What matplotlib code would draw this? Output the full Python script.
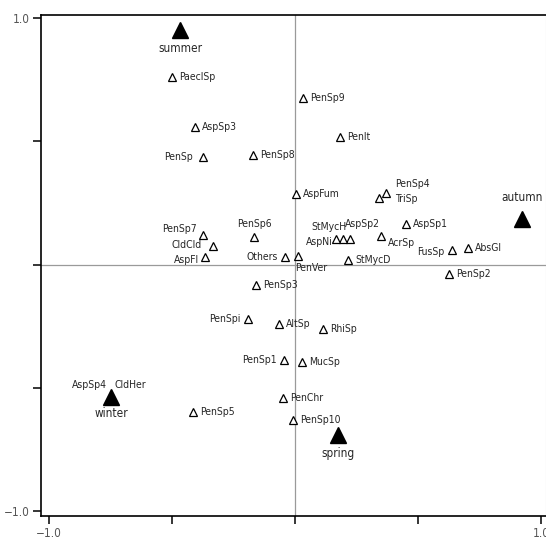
import matplotlib
matplotlib.use("Agg")
import matplotlib.pyplot as plt
from matplotlib.ticker import FixedLocator, FixedFormatter

plt.rcParams['font.family'] = ['DejaVu Sans']
plt.rcParams['font.stretch'] = 'condensed'

# species scores (axis 1, axis 2)
species = ["PaeclSp", "AspSp3", "PenSp", "PenSp8", "PenSp9", "PenIt", "AspFum",
           "PenSp4", "TriSp", "AspSp1", "AcrSp", "AspSp2", "StMycH", "AspNi",
           "StMycD", "FusSp", "AbsGl", "PenSp2", "PenSp7", "CldCld", "AspFl",
           "PenSp6", "Others", "PenVer", "PenSp3", "PenSpi", "AltSp", "RhiSp",
           "PenSp1", "MucSp", "PenChr", "PenSp10", "PenSp5", "AspSp4", "CldHer"]
sp_x = [-0.499, -0.406, -0.373, -0.170, 0.032, 0.183, 0.004,
        0.369, 0.341, 0.450, 0.349, 0.223, 0.195, 0.166,
        0.215, 0.637, 0.702, 0.625, -0.373, -0.333, -0.365,
        -0.166, -0.041, 0.012, -0.158, -0.191, -0.065, 0.114,
        -0.045, 0.028, -0.049, -0.008, -0.414, -0.747, -0.747]
sp_y = [0.761, 0.558, 0.436, 0.444, 0.675, 0.517, 0.286,
        0.290, 0.270, 0.164, 0.116, 0.103, 0.103, 0.103,
        0.018, 0.059, 0.067, -0.039, 0.120, 0.075, 0.030,
        0.112, 0.030, 0.034, -0.083, -0.221, -0.241, -0.262,
        -0.387, -0.396, -0.542, -0.631, -0.598, -0.538, -0.538]

# season centroids
seasons = ["summer", "autumn", "winter", "spring"]
se_x = [-0.467, 0.921, -0.747, 0.175]
se_y = [0.951, 0.185, -0.538, -0.692]

# label placement: (dx px, dy px, horizontal alignment)
right = (7, 0, "left")
left = (-7, 0, "right")
label_pos = {
    "PenSp": (-10, 0, "right"), "PenSpi": left, "PenSp1": left, "Others": left,
    "FusSp": (-8, -2, "right"),
    "PenSp4": (9, 9, "left"), "TriSp": (16, -1, "left"),
    "AcrSp": (7, -7, "left"), "AspSp2": (-5, 15, "left"),
    "StMycH": (3, 12, "right"), "AspNi": (-3, -3, "right"),
    "PenSp7": (-6, 6, "right"), "CldCld": (-11, 1, "right"),
    "AspFl": (-6, -3, "right"), "PenSp6": (0, 13, "center"),
    "PenVer": (-3, -12, "left"),
    "AspSp4": (-4, 12, "right"), "CldHer": (4, 12, "left"),
}
season_pos = {"summer": -18, "autumn": 21, "winter": -16, "spring": -18}

px = 0.72  # pixels -> points at 100 dpi

fig = plt.figure(figsize=(5.46, 5.40), dpi=100)
ax = fig.add_axes([41 / 546, 24 / 540, 505 / 546, 501 / 540])
ax.set_xlim(-1.031, 1.019)
ax.set_ylim(-1.020, 1.012)

ax.axhline(0, color="#9a9a9a", lw=0.9, zorder=1)
ax.axvline(0, color="#9a9a9a", lw=0.9, zorder=1)

ax.plot(sp_x, sp_y, linestyle="none", marker="^", ms=6, mfc="white",
        mec="black", mew=0.9, zorder=3)
ax.plot(se_x, se_y, linestyle="none", marker="^", ms=11, mfc="black",
        mec="black", zorder=4)

for name, x, y in zip(species, sp_x, sp_y):
    dx, dy, ha = label_pos.get(name, right)
    ax.annotate(name, (x, y), xytext=(dx * px, dy * px), textcoords="offset points",
                ha=ha, va="center", fontsize=7.5, color="#262626", zorder=5)

for name, x, y in zip(seasons, se_x, se_y):
    ax.annotate(name, (x, y), xytext=(0, season_pos[name] * px),
                textcoords="offset points", ha="center", va="center",
                fontsize=8.5, color="#262626", zorder=5)

for side in ("left", "bottom", "top"):
    ax.spines[side].set_color("black")
    ax.spines[side].set_linewidth(1.2)
ax.spines["right"].set_color("#d0d0d0")
ax.spines["right"].set_linewidth(0.8)

ticks = [-1.0, -0.5, 0.0, 0.5, 1.0]
tick_labels = ["\u22121.0", "", "", "", "1.0"]
for axis in (ax.xaxis, ax.yaxis):
    axis.set_major_locator(FixedLocator(ticks))
    axis.set_major_formatter(FixedFormatter(tick_labels))
ax.tick_params(direction="out", length=6, width=1.1, color="black",
               labelsize=8.5, labelcolor="#555555", pad=2)

fig.savefig("out.png", dpi=100)
